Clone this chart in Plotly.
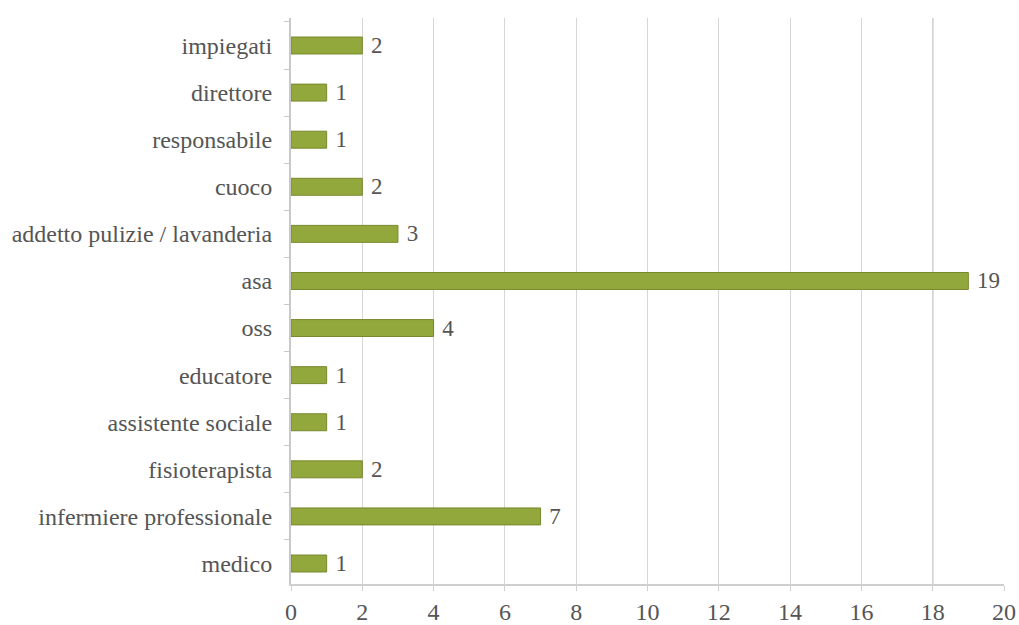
import plotly.graph_objects as go

categories = [
    "medico",
    "infermiere professionale",
    "fisioterapista",
    "assistente sociale",
    "educatore",
    "oss",
    "asa",
    "addetto pulizie / lavanderia",
    "cuoco",
    "responsabile",
    "direttore",
    "impiegati",
]
counts = [1, 7, 2, 1, 1, 4, 19, 3, 2, 1, 1, 2]
x_ticks = [0, 2, 4, 6, 8, 10, 12, 14, 16, 18, 20]

FONT = "Liberation Serif"
TEXT_COLOR = "#555555"
SIZE = 24

fig = go.Figure(
    go.Bar(
        y=categories,
        x=counts,
        orientation="h",
        marker=dict(color="#93a83c", line=dict(color="#76882c", width=1)),
        text=["\u00a0" + str(v) for v in counts],
        textposition="outside",
        constraintext="none",
        textfont=dict(family=FONT, size=23, color=TEXT_COLOR),
        cliponaxis=False,
        width=0.36,
    )
)

fig.update_layout(
    width=1019,
    height=625,
    autosize=False,
    margin=dict(l=291, r=15, t=18, b=41),
    plot_bgcolor="white",
    paper_bgcolor="white",
    showlegend=False,
    font=dict(family=FONT, size=SIZE, color=TEXT_COLOR),
)

fig.update_xaxes(
    range=[0, 20],
    tickvals=x_ticks,
    ticktext=[str(t) for t in x_ticks],
    showgrid=True,
    gridcolor="#d6d6d6",
    gridwidth=1,
    showline=True,
    linecolor="#cfcfcf",
    linewidth=2,
    ticks="outside",
    ticklen=5,
    tickcolor="#cfcfcf",
    zeroline=False,
    automargin=False,
    tickfont=dict(family=FONT, size=SIZE, color=TEXT_COLOR),
)

fig.update_yaxes(
    type="category",
    categoryorder="array",
    categoryarray=categories,
    range=[-0.435, 11.584],
    showline=True,
    linecolor="#c8c8c8",
    linewidth=2,
    ticks="outside",
    tickson="boundaries",
    ticklen=5,
    tickcolor="#c8c8c8",
    showgrid=False,
    automargin=False,
    ticklabelstandoff=12,
    tickfont=dict(family=FONT, size=SIZE, color=TEXT_COLOR),
)

# slightly darker gridline at 18
fig.add_shape(
    type="line", xref="x", yref="paper", x0=18, x1=18, y0=0, y1=1,
    line=dict(color="#bdbdbd", width=1.5), layer="below",
)

fig.write_html("out.html")
